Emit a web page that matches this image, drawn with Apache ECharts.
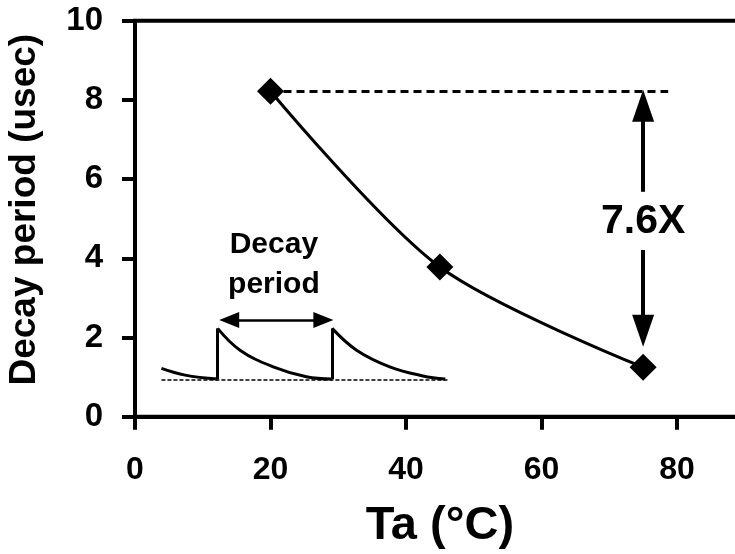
<!DOCTYPE html>
<html>
<head>
<meta charset="utf-8">
<script src="https://cdn.jsdelivr.net/npm/echarts@6/dist/echarts.min.js"></script>
<style>
  html, body { margin: 0; padding: 0; background: #fff; }
  #main { width: 735px; height: 554px; }
</style>
</head>
<body>
<div id="main"></div>
<script>
// measured decay period vs temperature
var temps = [20, 45, 75];
var decay = [8.22, 3.78, 1.25];
var ratioText = '7.6X';

// inset sketch of the pulse train
var sketchTail = [[3.9, 1.22], [7.4, 1.05], [12.2, 0.95]];
var sketchPulse1 = [[12.2, 2.23], [15.5, 1.68], [20.4, 1.26], [25.3, 1.01], [29.1, 0.95]];
var sketchPulse2 = [[29.1, 2.23], [32.7, 1.68], [37.6, 1.26], [42.5, 1.03], [45.8, 0.95]];
var sketchEdges = [12.2, 29.1];
var sketchBase = 0.93;
var sketchArrowY = 2.44;

var xTicks = [0, 20, 40, 60, 80];
var yTicks = [0, 2, 4, 6, 8, 10];

var font = 'Liberation Sans';
var myChart = echarts.init(document.getElementById('main'));

var mainData = [];
for (var i = 0; i < temps.length; i++) {
    mainData.push([temps[i], decay[i]]);
}

function sketchSeries(data) {
    return {
        type: 'line',
        data: data,
        smooth: 0.4,
        symbol: 'none',
        silent: true,
        lineStyle: { color: '#000', width: 3 },
        z: 3
    };
}

var edgeLines = [];
for (var k = 0; k < sketchEdges.length; k++) {
    edgeLines.push([{ coord: [sketchEdges[k], 0.95] }, { coord: [sketchEdges[k], 2.23] }]);
}

var option = {
    backgroundColor: '#fff',
    animation: false,
    grid: {
        left: 135,
        top: 20.7,
        bottom: 137.3,
        right: -9.75,
        outerBoundsMode: 'none',
        containLabel: false,
        show: true,
        borderColor: '#000',
        borderWidth: 4,
        backgroundColor: 'transparent'
    },
    xAxis: {
        type: 'value',
        min: 0,
        max: 90,
        interval: 20,
        name: 'Ta (°C)',
        nameLocation: 'middle',
        nameGap: 86,
        nameTextStyle: { fontFamily: font, fontWeight: 'bold', fontSize: 47, color: '#000' },
        splitLine: { show: false },
        axisLine: { lineStyle: { color: '#000', width: 4 } },
        axisTick: { length: 13, lineStyle: { color: '#000', width: 4 } },
        axisLabel: {
            margin: 37,
            showMaxLabel: false,
            fontFamily: font, fontWeight: 'bold', fontSize: 32, color: '#000',
            formatter: function (v) { return xTicks.indexOf(v) >= 0 ? String(v) : ''; }
        }
    },
    yAxis: {
        type: 'value',
        min: 0,
        max: 10,
        interval: 2,
        name: 'Decay period (usec)',
        nameLocation: 'middle',
        nameGap: 92,
        nameTextStyle: { fontFamily: font, fontWeight: 'bold', fontSize: 37, color: '#000', padding: [0, 0, 0, 18] },
        splitLine: { show: false },
        axisLine: { lineStyle: { color: '#000', width: 4 } },
        axisTick: { length: 13, lineStyle: { color: '#000', width: 4 } },
        axisLabel: {
            margin: 32,
            fontFamily: font, fontWeight: 'bold', fontSize: 33, color: '#000',
            formatter: function (v) { return yTicks.indexOf(v) >= 0 ? String(v) : ''; }
        }
    },
    series: [
        {
            type: 'line',
            data: mainData,
            smooth: 0.3,
            symbol: 'diamond',
            symbolSize: 27,
            itemStyle: { color: '#000' },
            lineStyle: { color: '#000', width: 3 },
            z: 5,
            markLine: {
                silent: true,
                label: { show: false },
                symbol: ['none', 'none'],
                data: [
                    [{ coord: [temps[0], decay[0]], lineStyle: { type: [8, 5], width: 3, color: '#000' } },
                     { coord: [78.7, decay[0]] }],
                    [{ coord: [temps[2], 5.68], symbol: 'none', lineStyle: { type: 'solid', width: 4, color: '#000' } },
                     { coord: [temps[2], 7.85], symbol: 'triangle', symbolSize: [22, 32] }],
                    [{ coord: [temps[2], 4.21], symbol: 'none', lineStyle: { type: 'solid', width: 4, color: '#000' } },
                     { coord: [temps[2], 2.17], symbol: 'triangle', symbolSize: [22, 32] }]
                ]
            }
        },
        sketchSeries(sketchTail),
        sketchSeries(sketchPulse1),
        sketchSeries(sketchPulse2),
        {
            type: 'line',
            data: [],
            symbol: 'none',
            markLine: {
                silent: true,
                label: { show: false },
                symbol: ['none', 'none'],
                lineStyle: { color: '#000', width: 3, type: 'solid' },
                data: edgeLines.concat([
                    [{ coord: [3.9, sketchBase], lineStyle: { type: [4, 2], width: 1.5, color: '#000' } },
                     { coord: [46.2, sketchBase] }],
                    [{ coord: [13.9, sketchArrowY], symbol: 'triangle', symbolSize: [16, 20], lineStyle: { width: 2.5, color: '#000', type: 'solid' } },
                     { coord: [27.8, sketchArrowY], symbol: 'triangle', symbolSize: [16, 20] }]
                ])
            }
        },
        {
            type: 'scatter',
            symbolSize: 0,
            silent: true,
            data: [
                { value: [temps[2], 4.92], label: { formatter: ratioText, fontSize: 41, color: '#000', fontFamily: font, fontWeight: 'bold' } },
                { value: [20.5, 3.85], label: { formatter: 'Decay\nperiod', fontSize: 30, lineHeight: 40, color: '#000', fontFamily: font, fontWeight: 'bold' } }
            ],
            label: {
                show: true,
                position: 'inside',
                fontFamily: font,
                fontWeight: 'bold',
                color: '#000'
            },
            itemStyle: { color: '#000', opacity: 1 },
            z: 6
        }
    ]
};

myChart.setOption(option);
</script>
</body>
</html>
